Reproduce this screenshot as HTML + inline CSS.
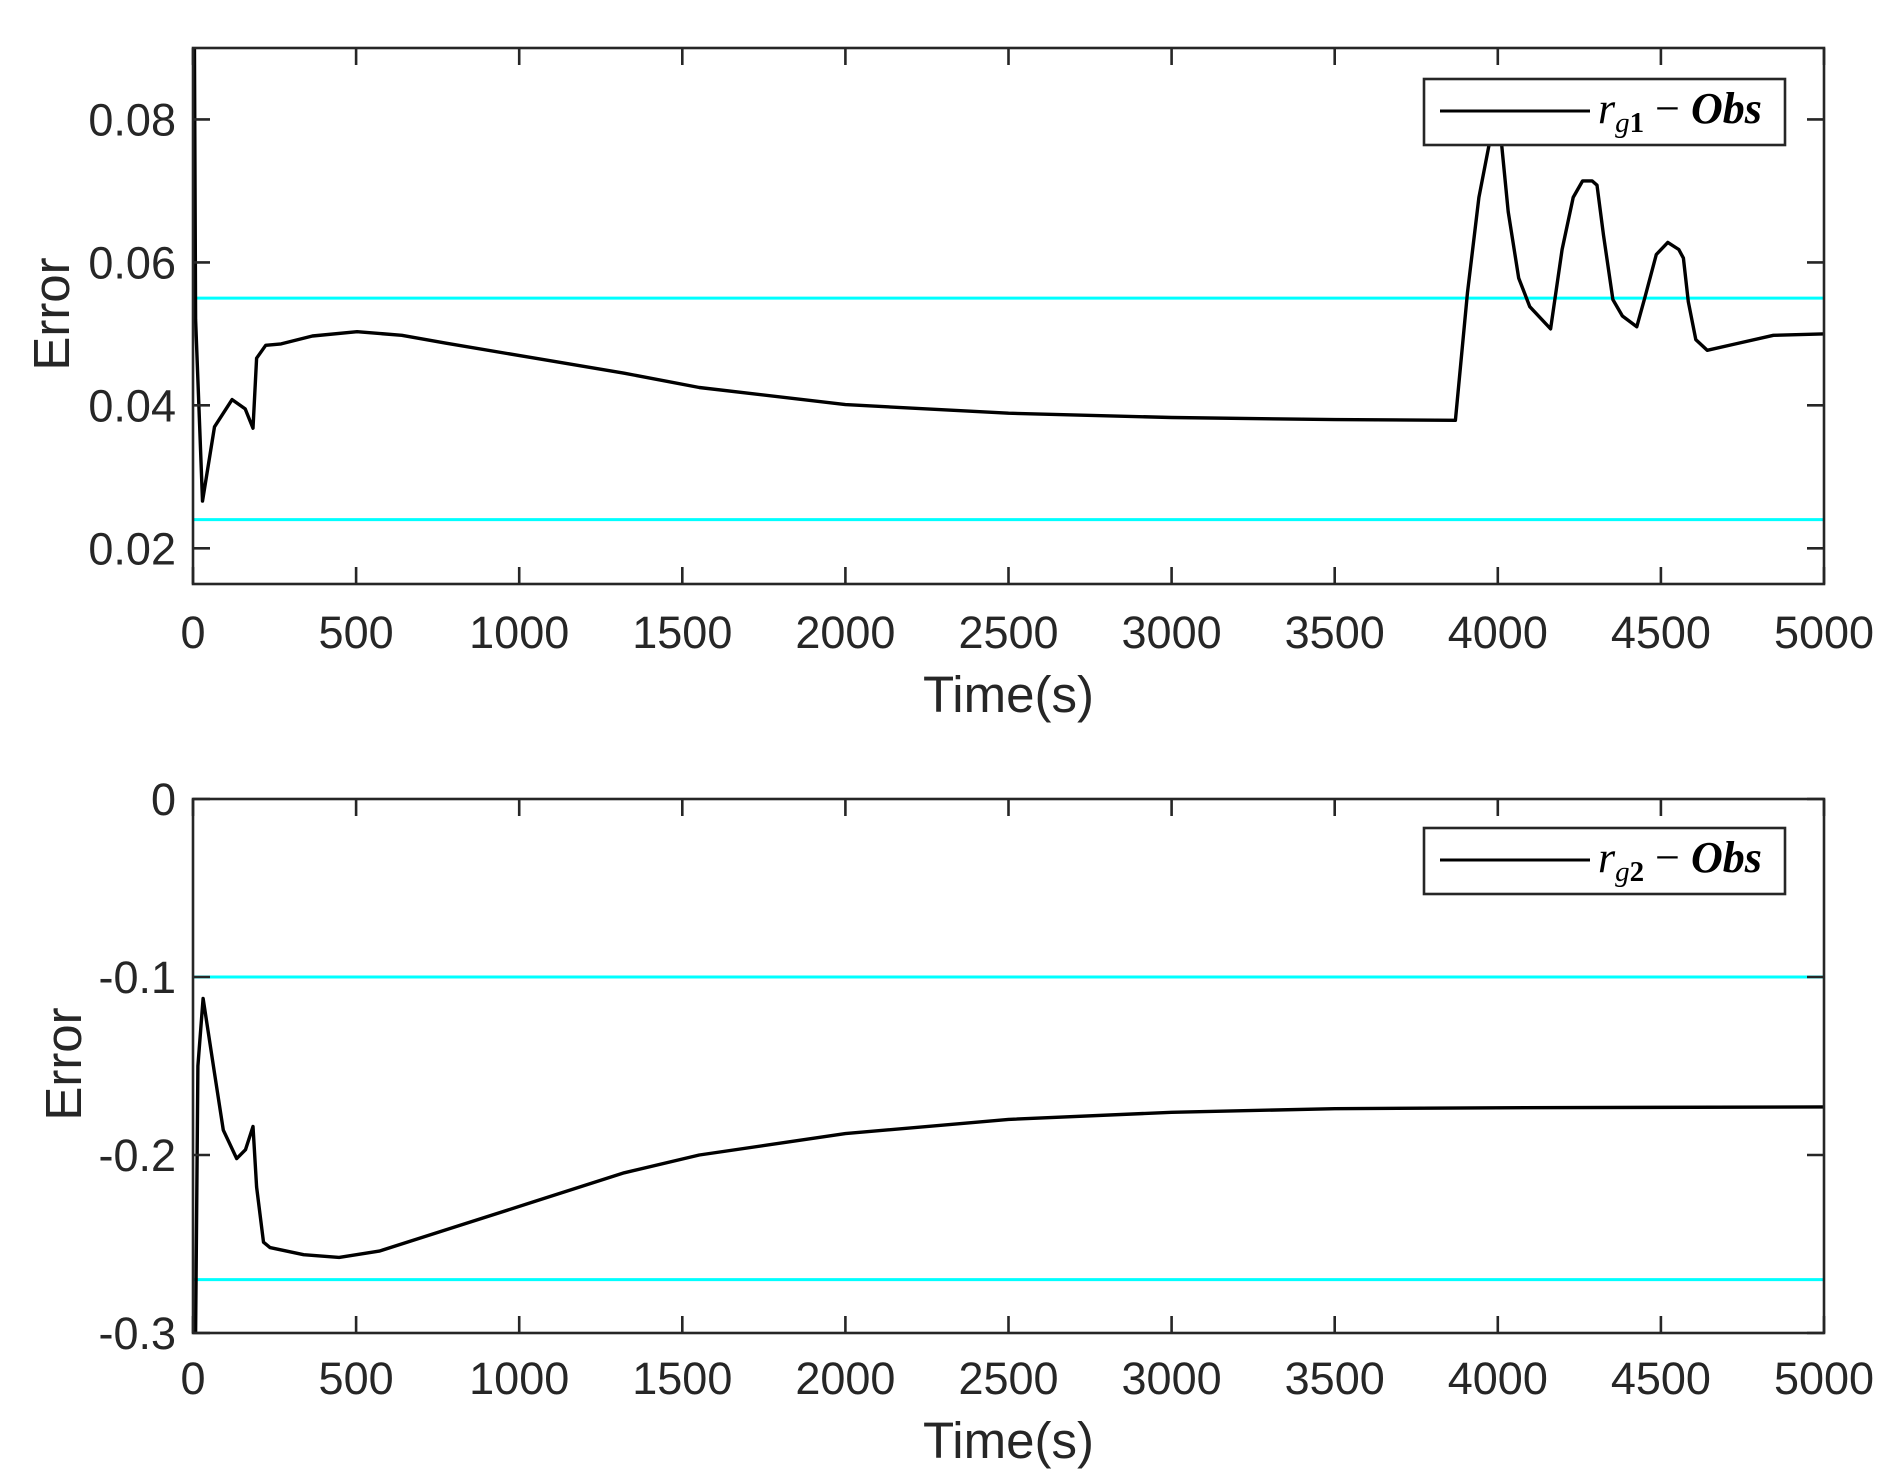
<!DOCTYPE html>
<html><head><meta charset="utf-8">
<style>
html,body{margin:0;padding:0;background:#fff;}
svg{display:block;}
text{font-family:"Liberation Sans",sans-serif;fill:#262626;}
</style></head>
<body>
<svg id="chart" width="1895" height="1484" viewBox="0 0 1895 1484" xmlns="http://www.w3.org/2000/svg">
<rect width="1895" height="1484" fill="#fff"/>
</svg>
<script>
// ---- data ----
const xTicks = [0,500,1000,1500,2000,2500,3000,3500,4000,4500,5000];
const topYTicks = [0.02,0.04,0.06,0.08];
const topYTickLabels = ["0.02","0.04","0.06","0.08"];
const botYTicks = [-0.3,-0.2,-0.1,0];
const botYTickLabels = ["-0.3","-0.2","-0.1","0"];
const topBounds = [0.055,0.024];
const botBounds = [-0.1,-0.27];
const topT = [0,4,8,29,66,120,160,184,195,223,270,366,503,640,776,1049,1322,1552,2000,2500,3000,3500,3870,3907,3942,3973,3992,4012,4032,4064,4098,4162,4197,4231,4260,4289,4304,4324,4353,4382,4426,4451,4486,4521,4555,4569,4584,4607,4642,4729,4845,4995,5000];
const topV = [0.068,0.095,0.052,0.0266,0.037,0.0408,0.0395,0.0368,0.0466,0.0484,0.0486,0.0497,0.0503,0.0498,0.0487,0.0466,0.0445,0.0425,0.0401,0.0389,0.0383,0.0380,0.0379,0.0558,0.0691,0.0764,0.0795,0.0764,0.0671,0.0578,0.0538,0.0507,0.0618,0.0691,0.0714,0.0714,0.0708,0.0638,0.0548,0.0525,0.051,0.0551,0.0611,0.0628,0.0618,0.0606,0.0545,0.0492,0.0477,0.0486,0.0498,0.0500,0.0500];
const botT = [0,3,8,15,31,66,93,134,161,184,195,216,236,339,448,571,776,1049,1322,1552,2000,2500,3000,3500,4000,5000];
const botV = [-0.3,-0.3,-0.3,-0.15,-0.112,-0.154,-0.186,-0.202,-0.197,-0.184,-0.218,-0.249,-0.252,-0.256,-0.2575,-0.254,-0.242,-0.226,-0.210,-0.200,-0.188,-0.180,-0.176,-0.174,-0.1735,-0.173];

const NS="http://www.w3.org/2000/svg";
const svg=document.getElementById('chart');
function mk(tag,attrs,parent){const e=document.createElementNS(NS,tag);for(const k in attrs)e.setAttribute(k,attrs[k]);(parent||svg).appendChild(e);return e;}

function panel(cfg){
  const L=193,R=1824,T=cfg.top,B=cfg.bottom;
  const sx=t=>L+(t-0)/(5000-0)*(R-L);
  const sy=v=>B-(v-cfg.ymin)/(cfg.ymax-cfg.ymin)*(B-T);
  const g=mk('g',{});
  
  
  const cp=mk('clipPath',{id:cfg.name+'-clip'},g);
  mk('rect',{x:L,y:T,width:R-L,height:B-T},cp);
  cfg.bounds.forEach((b,i)=>{
    const l=mk('line',{x1:L,x2:R,y1:sy(b),y2:sy(b),stroke:'#00ffff','stroke-width':3},g);
    
    
  });
  let d='';cfg.t.forEach((t,i)=>{d+=(i?'L':'M')+sx(t).toFixed(1)+' '+sy(cfg.v[i]).toFixed(1);});
  const p=mk('path',{d:d,fill:'none',stroke:'#000','stroke-width':3.4,'stroke-linejoin':'round','clip-path':'url(#'+cfg.name+'-clip)'},g);
  
  
  const box=mk('rect',{x:L,y:T,width:R-L,height:B-T,fill:'none',stroke:'#262626','stroke-width':2.6},g);
  
  
  xTicks.forEach(t=>{
    const x=sx(t);
    mk('line',{x1:x,x2:x,y1:B,y2:B-17,stroke:'#262626','stroke-width':2.6},g);
    mk('line',{x1:x,x2:x,y1:T,y2:T+17,stroke:'#262626','stroke-width':2.6},g);
    const tx=mk('text',{x:x,y:cfg.xtY,'text-anchor':'middle','font-size':45},g);
    tx.textContent=t;
    
    
  });
  cfg.yt.forEach((v,i)=>{
    const y=sy(v);
    mk('line',{x1:L,x2:L+17,y1:y,y2:y,stroke:'#262626','stroke-width':2.6},g);
    mk('line',{x1:R,x2:R-17,y1:y,y2:y,stroke:'#262626','stroke-width':2.6},g);
    const tx=mk('text',{x:176,y:y+16,'text-anchor':'end','font-size':45},g);
    tx.textContent=cfg.ytl[i];
    
    
  });
  const xl=mk('text',{x:(L+R)/2,y:cfg.xlY,'text-anchor':'middle','font-size':51},g);
  xl.textContent='Time(s)';
  
  
  const yl=mk('text',{x:0,y:0,'text-anchor':'middle','font-size':51,transform:'translate('+(cfg.ylx+18)+','+cfg.yly+') rotate(-90)'},g);
  yl.textContent='Error';
  
  
  const lg=mk('g',{},g);
  
  
  const ly=cfg.legTop;
  mk('rect',{x:1424,y:ly,width:361,height:66,fill:'#fff',stroke:'#262626','stroke-width':2.6},lg);
  mk('line',{x1:1440,x2:1590,y1:ly+32,y2:ly+32,stroke:'#000','stroke-width':3},lg);
  const lt=mk('text',{x:1598,y:ly+44,'font-size':44,style:'font-family:"Liberation Serif",serif;font-style:italic;fill:#000'},lg);
  lt.innerHTML='r<tspan font-size="29" dy="9">g</tspan><tspan font-size="29" font-style="normal" font-weight="bold">'+cfg.idx+'</tspan><tspan dy="-9" font-style="normal"> − </tspan><tspan font-weight="bold">Obs</tspan>';
  
  
}
panel({name:'top-panel',top:48,bottom:584,ymin:0.015,ymax:0.09,yt:topYTicks,ytl:topYTickLabels,bounds:topBounds,t:topT,v:topV,ylx:51,yly:314,legTop:79,idx:'1',xtY:648,xlY:712});
panel({name:'bottom-panel',top:799,bottom:1333,ymin:-0.3,ymax:0,yt:botYTicks,ytl:botYTickLabels,bounds:botBounds,t:botT,v:botV,ylx:63,yly:1064,legTop:828,idx:'2',xtY:1394,xlY:1458});
</script>
</body></html>
